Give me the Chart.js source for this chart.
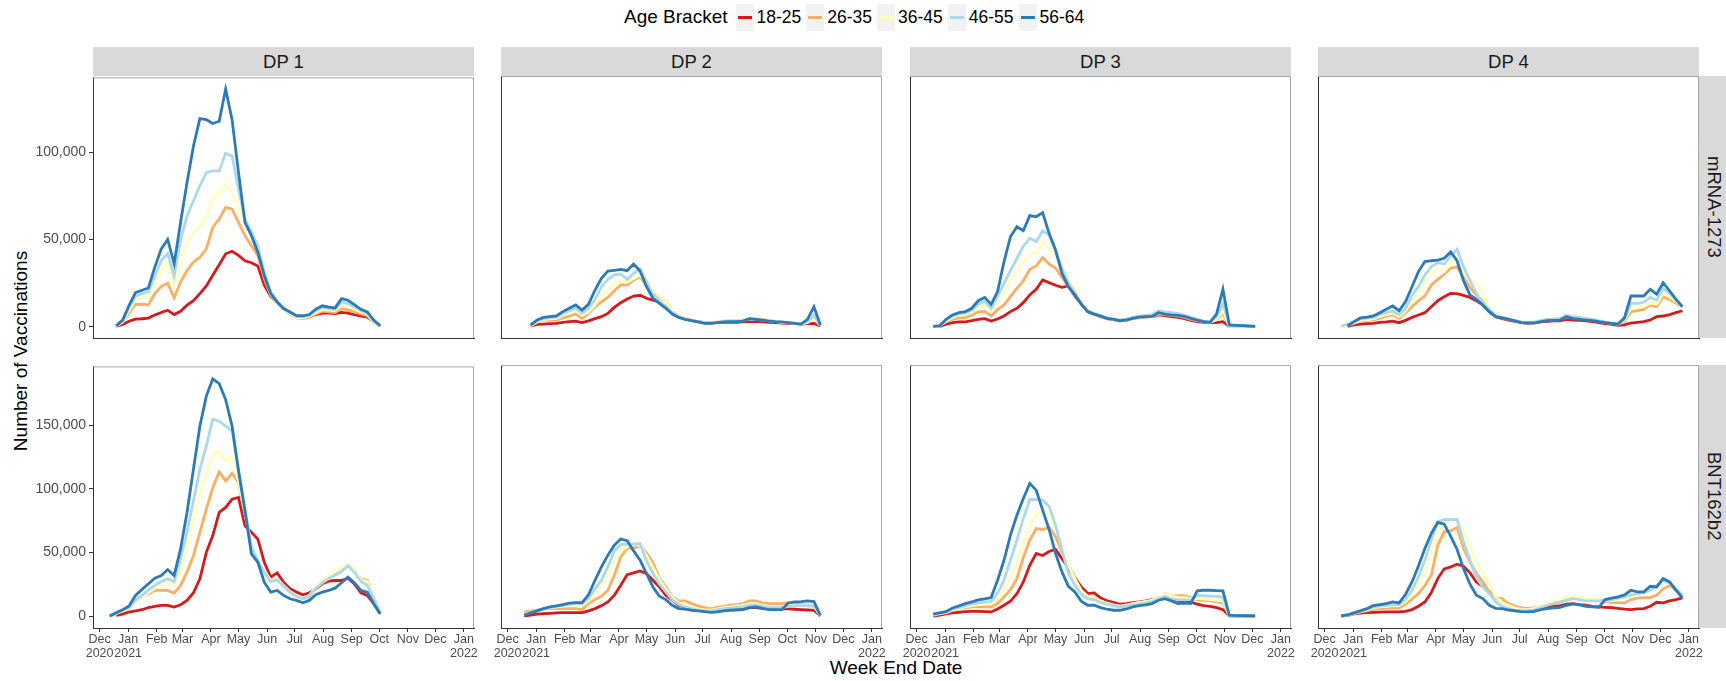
<!DOCTYPE html>
<html>
<head>
<meta charset="utf-8">
<script src="https://cdn.jsdelivr.net/npm/chart.js@4.4.1/dist/chart.umd.min.js"></script>
<style>
  body { margin: 0; width: 1726px; height: 681px; overflow: hidden; background: #fff;
         font-family: "Liberation Sans", Arial, sans-serif; position: relative; }
  canvas { position: absolute; }
  .strip { position: absolute; background: #d9d9d9; color: #1a1a1a; font-size: 18.5px;
           display: flex; align-items: center; justify-content: center; }
  .stripY { writing-mode: vertical-rl; }
  #legend { position: absolute; left: 624px; top: 3px; height: 28px; display: flex; align-items: center;
            font-size: 19px; color: #000; }
  .key { width: 18px; height: 27px; background: #f2f2f2; position: relative; margin-left: 5px; }
  .key span { position: absolute; left: 2px; right: 2px; top: 12px; height: 3.5px; }
  .lab { margin-left: 3px; font-size: 17.5px; }
  #ytitle { position: absolute; left: 21px; top: 351px; transform: translate(-50%, -50%) rotate(-90deg);
            font-size: 19px; white-space: nowrap; }
  #xtitle { position: absolute; left: 896px; top: 668px; transform: translate(-50%, -50%);
            font-size: 19px; white-space: nowrap; }
</style>
</head>
<body>
<div id="legend"><span>Age Bracket</span></div>
<div id="ytitle">Number of Vaccinations</div>
<div id="xtitle">Week End Date</div>
<script>
// week end dates (Saturdays)
const weekEnd = ['2020-12-12','2020-12-19','2020-12-26','2021-01-02','2021-01-09','2021-01-16','2021-01-23','2021-01-30',
  '2021-02-06','2021-02-13','2021-02-20','2021-02-27','2021-03-06','2021-03-13','2021-03-20','2021-03-27',
  '2021-04-03','2021-04-10','2021-04-17','2021-04-24','2021-05-01','2021-05-08','2021-05-15','2021-05-22','2021-05-29',
  '2021-06-05','2021-06-12','2021-06-19','2021-06-26','2021-07-03','2021-07-10','2021-07-17','2021-07-24','2021-07-31',
  '2021-08-07','2021-08-14','2021-08-21','2021-08-28','2021-09-04','2021-09-11','2021-09-18','2021-09-25',
  '2021-10-02','2021-10-09','2021-10-16','2021-10-23','2021-10-30','2021-11-06','2021-11-13','2021-11-20','2021-11-27',
  '2021-12-04','2021-12-11','2021-12-18','2021-12-25'];

const monthTicks = ['2020-12-01','2021-01-01','2021-02-01','2021-03-01','2021-04-01','2021-05-01','2021-06-01',
  '2021-07-01','2021-08-01','2021-09-01','2021-10-01','2021-11-01','2021-12-01','2022-01-01'];
const monthLabels = [['Dec','2020'],['Jan','2021'],'Feb','Mar','Apr','May','Jun','Jul','Aug','Sep','Oct','Nov','Dec',['Jan','2022']];

const doses = ['DP 1','DP 2','DP 3','DP 4'];
const vaccines = ['mRNA-1273','BNT162b2'];
const ageBrackets = ['18-25','26-35','36-45','46-55','56-64'];
const lineColours = ['#d7191c','#fdae61','#ffffbf','#abd9e9','#2c7bb6'];
const yTicksTop = [0, 50000, 100000];
const yTicksBottom = [0, 50000, 100000, 150000];

// DP 1, mRNA-1273
const dp1Mrna1825 = [null,300,1300,3200,4400,4600,5000,6700,8200,9500,7000,8900,12400,15000,19000,23400,29500,35500,41800,43300,40900,37800,36700,34800,23800,17500,14300,10500,7600,5500,5100,5700,7000,7800,7800,7600,8200,7800,7000,6300,5500,2900,500];
const dp1Mrna2635 = [null,400,2500,8000,12800,13000,12500,19000,23000,25000,16500,25600,32300,37000,39900,44600,57000,61700,68400,67400,59800,52200,46500,40800,27500,18000,13700,10100,7400,5100,4700,5500,7400,8900,8500,8200,10400,9700,8500,7400,6300,2500,500];
const dp1Mrna3645 = [null,500,3000,9500,15500,16500,17000,25000,33000,36000,23000,36000,48400,54100,57000,63600,74100,76000,81700,76900,68400,59800,52200,44600,30400,19000,14200,10400,7600,5300,5100,6300,8200,9900,9500,9300,12300,11600,10100,8500,7400,2800,500];
const dp1Mrna4655 = [null,600,3500,11000,17500,19000,20000,29000,38000,42000,29000,50000,63600,72200,80700,88300,89300,89300,99400,97800,78800,61700,54100,46500,31300,20000,14600,10800,8200,6300,5900,6600,9300,11000,10400,10000,14200,13300,11400,9300,7800,3200,500];
const dp1Mrna5664 = [null,500,3800,12300,19600,20900,22200,34200,44600,50000,36100,59800,82600,103500,119300,118700,116500,117800,136200,118700,88300,59800,52200,42700,29400,19000,14200,10400,8500,6300,6300,7000,10100,12000,11200,10800,16100,15200,12700,10000,8500,3800,600];

// DP 1, BNT162b2
const dp1Bnt1825 = [null,800,1800,3400,4200,5200,6800,7800,8600,8600,7300,9100,12500,18500,29400,50200,63300,81500,85400,91900,93200,71000,65900,60700,42400,30700,34100,26800,21600,19000,16900,18500,21600,25500,27600,28100,28100,29900,25500,18500,16400,9900,2100];
const dp1Bnt2635 = [200,2000,4000,6200,12500,15100,17700,20300,20300,20300,18200,24200,34600,47700,65900,84100,101000,113300,106200,112200,104900,80200,54200,42400,35900,28100,29400,23700,19000,15900,13800,15900,22100,26800,29900,32500,35900,39800,35900,29400,28100,13800,2900];
const dp1Bnt3645 = [260,2400,4500,6800,11500,14500,18500,22100,24200,25500,23700,37200,55500,75000,95800,112700,127000,129700,121900,125800,106200,81500,55500,43700,35900,28100,29400,24200,19500,16400,14300,16400,23200,28100,32000,35100,37800,41100,37200,28900,27300,13800,3400];
const dp1Bnt4655 = [260,2600,5000,7300,12500,16400,20800,24200,27300,29400,27300,45000,65900,90600,115400,133600,154400,153100,149200,145300,115400,84100,54200,43700,34600,27300,28600,23700,19000,15900,13800,15900,22100,26300,29400,32500,35100,39800,34600,27300,24200,13800,3400];
const dp1Bnt5664 = [260,2900,5200,8100,16400,21100,25500,29900,32000,36700,32000,52900,81500,115400,149200,172700,186200,182500,170000,149200,114000,82800,49000,42400,26800,19000,20300,16400,13800,12500,10700,12500,16900,19000,20300,22100,26300,30700,26300,20300,19000,9900,2100];

// DP 2, mRNA-1273
const dp2Mrna1825 = [null,null,400,1300,1500,1700,1900,2500,2900,3200,2300,3300,4600,5700,7600,11000,13700,15800,17500,17900,16200,15200,14100,11400,8000,5700,4400,3400,2900,2300,2300,2300,2500,2500,2500,2700,3100,2900,2700,2500,2300,2100,1900,1700,1500,1700,1900,400];
const dp2Mrna2635 = [null,null,600,2500,3800,3800,3800,5000,6000,7200,4800,7600,11400,14300,16700,20500,23800,23800,26600,28500,23200,19400,17100,14800,8600,6100,4600,3800,2900,2100,2100,2700,3100,3300,3400,3800,4600,4400,4200,3600,3100,2500,2300,1900,1700,2300,4800,600];
const dp2Mrna3645 = [null,null,800,3000,4000,4400,4800,6500,7800,9000,6500,8500,12500,17500,21500,24500,26000,25500,27500,29500,24500,20500,17500,14500,8500,6000,4600,3600,2800,2300,2200,2600,3000,3200,3300,3600,4500,4400,4000,3500,3000,2600,2300,1900,1700,2500,4800,900];
const dp2Mrna4655 = [null,null,900,3400,4600,5000,5500,7500,9000,10500,7600,10500,15500,22800,27000,29500,30000,27000,30400,32700,25700,18000,14800,11400,8000,5700,4400,3400,2700,2100,2100,2500,2900,3100,3100,3400,4400,4200,3800,3400,2900,2500,2300,1900,1700,2900,6700,1000];
const dp2Mrna5664 = [null,null,1000,3800,5300,5700,6100,8600,10500,12400,9500,12900,20900,27600,31700,32100,32700,31900,35700,31700,22800,16200,13300,10500,7200,5300,4200,3400,2700,1900,1900,2300,2700,2900,2900,3200,4600,4200,3800,3200,2900,2700,2300,1900,1500,4200,11400,1000];

// DP 2, BNT162b2
const dp2Bnt1825 = [null,300,1000,1600,2100,2300,2600,2900,2900,2900,2900,4200,6000,8300,11200,16400,24200,32500,33900,35400,33300,28100,22900,16400,12500,8600,7300,6000,4900,4400,3900,4700,5200,5500,5700,6000,6800,6800,6200,5700,5700,5700,5700,5500,5200,4900,4700,300];
const dp2Bnt2635 = [null,3400,4000,4800,5700,6000,6000,6000,6000,6000,5200,9900,13000,15600,20300,32000,46300,52900,53400,54700,49500,41700,29400,22900,15100,12000,12000,9900,8100,6800,5700,7000,7800,8600,9100,9900,12000,12000,10400,9900,9900,9900,10400,9900,9100,8600,7800,500];
const dp2Bnt3645 = [null,1800,3000,4500,5800,6600,7300,7900,8300,8600,8700,12000,17500,24000,32000,44000,51000,54000,56500,55000,47500,38000,28500,21500,14500,10500,8200,6700,5600,5000,4800,5800,6800,7400,8000,8600,9800,9800,8600,7800,7600,7600,8300,8400,8400,8200,7600,700];
const dp2Bnt4655 = [null,1500,3000,4500,6000,7000,7800,8600,9300,9800,9900,14100,21600,28100,38500,51000,56000,56200,56200,56800,43200,33300,25000,19000,13000,9400,7300,6000,4900,4400,4200,5200,6000,6500,7000,7600,8600,8900,7800,7000,6800,6800,7800,8100,8300,8300,7800,800];
const dp2Bnt5664 = [null,800,2600,4200,6000,7300,8100,9100,10200,10700,10700,16900,28100,38500,47700,55500,60200,58900,51000,43700,33300,22900,15600,13000,8600,6000,5500,4700,4200,3600,3100,3400,4200,4700,4900,5200,6800,7300,6200,5200,5200,5200,10400,11200,11500,12000,11500,800];

// DP 3, mRNA-1273
const dp3Mrna1825 = [null,null,200,1500,2300,2700,2800,3400,4200,4600,3200,4400,6100,8600,10500,13700,18100,21300,26600,25100,23600,22400,23200,17500,12900,8600,7200,5700,4600,4000,3400,4200,5000,5300,5700,5700,6700,6300,5700,5300,4600,3600,2900,2500,2300,2300,2900,200,100,100,100,100];
const dp3Mrna2635 = [null,150,700,2800,4200,5000,5300,6500,8500,8700,6100,9700,12400,17100,21900,26200,32700,34600,39500,35700,33500,28100,22800,18100,13300,9100,7600,6100,4800,4000,3400,3800,4600,5100,5300,5700,7200,6900,6500,6100,5300,4200,3400,2900,2500,3800,7600,100,100,100,100,100];
const dp3Mrna3645 = [null,200,400,3200,5200,6500,7000,8500,11000,12500,9000,14500,20000,26000,32700,37000,41800,41800,48500,44700,39900,32300,27600,20900,14300,9500,7600,6100,4800,4200,3400,3800,4800,5500,5900,6100,8000,7600,7200,6900,6100,4800,3800,3100,2700,4200,9100,400,400,400,300,200];
const dp3Mrna4655 = [null,200,400,3800,6000,7400,7800,9500,12900,14400,10500,17500,24700,31900,39000,46000,50400,48500,54700,52300,43700,33300,25100,19400,13300,9100,7600,6300,5000,4400,3800,4200,5300,6100,6500,6900,9100,8400,8000,7600,6500,5300,4200,3200,2900,5300,13300,800,600,600,400,200];
const dp3Mrna5664 = [null,200,400,4200,6700,8000,8600,10500,14800,16700,12700,20000,37100,51300,57000,54700,63300,62700,65000,53200,43700,30400,22800,18100,12900,8600,7200,6100,4800,4200,3400,3800,4800,5500,5700,5900,8000,7200,6800,6500,5900,4800,3800,2900,2500,7200,21300,1000,800,600,400,200];

// DP 3, BNT162b2
const dp3Bnt1825 = [null,200,1000,1800,2600,3100,3600,3900,3900,3600,3400,5700,8600,11700,17700,26800,39800,49000,47400,50500,52100,45000,38000,30200,22900,17700,18200,14300,12000,10900,9400,9900,10700,11200,12000,13000,14100,16100,13500,12500,11700,11200,9400,8300,7800,6800,5200,300,200,200,200,200];
const dp3Bnt2635 = [null,800,1800,2600,4700,5800,6800,7300,7300,7300,7300,9900,15100,20800,29400,45800,59400,68500,67700,69300,62000,50300,39800,30200,20000,15000,14100,11700,9900,8600,7300,8300,9400,10400,11200,12000,14300,17700,15600,16100,16100,14600,13000,12500,12000,11200,10400,300,300,300,300,300];
const dp3Bnt3645 = [null,1300,2300,3100,5000,6200,7400,8300,9100,9600,9800,13500,20000,31000,42000,56000,71000,80000,82000,79000,70000,55000,40000,29000,20000,15500,14500,12000,10200,8900,7900,8800,9900,10900,11700,12600,15000,17500,15500,14800,14500,13800,14000,13500,13000,12500,12000,400,300,300,300,300];
const dp3Bnt4655 = [null,1600,2600,3400,5700,7000,8300,9400,10400,11000,11700,18200,28100,43700,59400,76300,91100,91100,90600,85900,71100,51600,33300,24200,17200,13500,13000,10900,9400,8300,7300,8100,8900,9600,10400,11500,13500,15600,13500,13000,12800,13000,16400,16000,15700,15500,15000,500,400,400,300,300];
const dp3Bnt5664 = [null,1600,2600,3600,6500,8100,9900,11200,12800,13500,14600,28100,43700,63300,78900,91900,103600,98400,82800,67700,49000,34600,23400,19000,11700,8600,8600,6800,5500,4700,4700,5700,7300,8300,8900,9900,12500,13800,12000,9900,10200,9900,19800,20300,20300,20000,19800,800,500,500,400,300];

// DP 4, mRNA-1273
const dp4Mrna1825 = [null,null,200,1000,1500,1700,1900,2500,2800,3200,2300,3600,5300,6700,8000,11400,14800,17100,19000,18800,17900,16700,14800,12400,8600,5700,4600,3800,3100,2300,2100,2300,2700,3100,3300,3400,4200,3800,3600,3300,2900,2300,1700,1300,800,1000,2100,2500,2900,3800,5700,6100,6900,8000,9100];
const dp4Mrna2635 = [null,null,400,2000,3000,3800,3800,4900,6000,6700,4800,8000,11400,14800,17500,23800,27000,29900,33300,34200,28100,22400,18100,14300,9100,6100,5000,4200,3300,2500,2300,2500,3100,3600,3800,4200,5300,5000,4600,4200,3600,3100,2300,1900,1300,2900,8600,9100,9900,12400,11400,17100,15600,13300,11400];
const dp4Mrna3645 = [null,null,800,2400,3600,4000,4500,5800,6900,7700,5800,9000,14500,19500,25500,30500,33000,31500,36000,37500,30500,27500,24000,18000,11000,7000,5600,4800,3600,2800,2600,2800,3500,4300,4600,5000,6500,5800,5400,4800,4200,3400,2700,2100,1700,3800,10500,11000,11500,13500,13000,19000,17000,14500,11500];
const dp4Mrna4655 = [null,100,1500,3000,4400,4900,5300,6800,8000,8900,6800,10400,18000,22800,29400,34200,36500,35700,40300,44100,34200,26200,19000,13300,9900,6400,5300,4600,3400,2700,2500,2700,3400,4200,4400,4800,6400,5700,5300,4800,4200,3400,2700,2100,1700,4200,13300,13300,14000,16700,15200,21800,19000,15200,11400];
const dp4Mrna5664 = [null,null,400,2900,5000,5500,6100,8000,9900,11800,9100,14300,22800,31400,37100,37600,38000,39000,42600,37600,26200,18100,15600,12400,8600,5700,5000,4200,3300,2300,2100,2100,2900,3400,3600,3800,5700,4600,4200,3800,3400,2900,2300,1900,1500,5100,17500,17500,17500,21300,18600,25100,20500,15600,11400];

// DP 4, BNT162b2
const dp4Bnt1825 = [null,100,700,1800,2400,2900,3100,3200,3400,3400,3400,3900,5200,7800,11200,18500,29400,37000,38500,40600,39100,33900,26800,23400,19000,14600,11500,9100,7300,6200,6000,6200,7000,7600,8100,8300,9400,9900,9100,8600,7800,7300,7000,6800,6200,5500,5200,5700,6000,7800,10900,10400,12000,13000,14300];
const dp4Bnt2635 = [null,200,900,2100,3400,4200,5500,6000,6300,6500,6500,9400,13500,17700,24000,32000,55500,66100,66700,69300,52900,42400,33300,26800,19000,14300,13800,9900,7800,6500,6200,6800,7800,9100,9900,11200,12500,14100,13500,13000,12500,12000,11500,10900,10700,10400,13000,14100,14600,14600,16400,21400,24000,20800,16400];
const dp4Bnt3645 = [null,200,1100,2500,3900,5200,6500,7300,7800,8100,8300,11500,17000,25000,36000,50000,65000,73000,75500,75000,66000,55000,42000,34000,25000,15000,11000,8500,6400,5400,5200,6200,8200,10000,11500,13000,14500,15800,14800,13500,13300,13000,12000,12500,13000,14000,15500,17000,18000,20000,24000,27500,26000,21000,16000];
const dp4Bnt4655 = [null,200,1300,2900,4400,5700,7300,8100,8600,8900,9100,13000,20300,30700,43700,59400,73700,75500,75500,75500,58100,43700,30200,22900,17700,11200,7800,6000,4700,4200,4400,4900,6800,8600,9900,11200,12500,13800,13000,12000,12000,12000,12500,13000,14100,15100,16700,17700,18500,20300,24200,28100,26000,21600,16400];
const dp4Bnt5664 = [null,300,1000,2600,4200,6000,8300,9100,9900,11200,10400,17200,26800,39300,52900,64600,73200,71900,62500,52100,37200,25000,16400,13800,8600,6200,6000,4900,4200,3600,3400,3900,5200,6000,6500,7000,8600,9600,8900,7800,7300,7000,13000,14100,15100,16700,20300,19000,19000,23400,22900,29400,26800,20300,14300];

// facet table: [row][column] -> series in ageBrackets order
const panels = [
  [[dp1Mrna1825,dp1Mrna2635,dp1Mrna3645,dp1Mrna4655,dp1Mrna5664],
   [dp2Mrna1825,dp2Mrna2635,dp2Mrna3645,dp2Mrna4655,dp2Mrna5664],
   [dp3Mrna1825,dp3Mrna2635,dp3Mrna3645,dp3Mrna4655,dp3Mrna5664],
   [dp4Mrna1825,dp4Mrna2635,dp4Mrna3645,dp4Mrna4655,dp4Mrna5664]],
  [[dp1Bnt1825,dp1Bnt2635,dp1Bnt3645,dp1Bnt4655,dp1Bnt5664],
   [dp2Bnt1825,dp2Bnt2635,dp2Bnt3645,dp2Bnt4655,dp2Bnt5664],
   [dp3Bnt1825,dp3Bnt2635,dp3Bnt3645,dp3Bnt4655,dp3Bnt5664],
   [dp4Bnt1825,dp4Bnt2635,dp4Bnt3645,dp4Bnt4655,dp4Bnt5664]]
];

// layout of the facet grid (pixels)
const panelLeft = [93, 501, 910, 1318];
const panelW = 381;
const panelTop = [76, 365];
const panelH = [262, 263];
const yLimits = [[-6440, 142900], [-9140, 196000]];
const xLimits = [-7.2, 407];
const padL = 80, padR = 14, padT = 10, padB = 44;

const day0 = Date.UTC(2020, 11, 1);
const dayOf = s => (Date.parse(s) - day0) / 864e5;
const tickDays = monthTicks.map(dayOf);

Chart.defaults.font.family = '"Liberation Sans", Arial, sans-serif';

// grey panel border on top and right (left/bottom come from the axes)
const panelBorder = {
  id: 'panelBorder',
  beforeDatasetsDraw(chart) {
    const a = chart.chartArea, ctx = chart.ctx;
    ctx.save();
    ctx.strokeStyle = '#a6a6a6';
    ctx.lineWidth = 1;
    ctx.beginPath();
    ctx.moveTo(a.left, a.top + 0.5);
    ctx.lineTo(a.right - 0.5, a.top + 0.5);
    ctx.lineTo(a.right - 0.5, a.bottom);
    ctx.stroke();
    ctx.restore();
  }
};

// legend
const legend = document.getElementById('legend');
ageBrackets.forEach((lab, k) => {
  const key = document.createElement('div');
  key.className = 'key';
  if (k === 0) key.style.marginLeft = '8px';
  const seg = document.createElement('span');
  seg.style.background = lineColours[k];
  key.appendChild(seg);
  legend.appendChild(key);
  const t = document.createElement('span');
  t.className = 'lab';
  t.textContent = lab;
  legend.appendChild(t);
});

// strips
doses.forEach((d, c) => {
  const s = document.createElement('div');
  s.className = 'strip';
  s.style.left = panelLeft[c] + 'px';
  s.style.top = '47px';
  s.style.width = panelW + 'px';
  s.style.height = '29px';
  s.textContent = d;
  document.body.appendChild(s);
});
vaccines.forEach((v, r) => {
  const s = document.createElement('div');
  s.className = 'strip stripY';
  s.style.left = '1699px';
  s.style.top = panelTop[r] + 'px';
  s.style.width = '29px';
  s.style.height = panelH[r] + 'px';
  s.textContent = v;
  document.body.appendChild(s);
});

// panels
for (let r = 0; r < 2; r++) {
  for (let c = 0; c < 4; c++) {
    const cv = document.createElement('canvas');
    const w = panelW + padL + padR, h = panelH[r] + padT + padB;
    cv.width = w; cv.height = h;
    cv.style.left = (panelLeft[c] - padL) + 'px';
    cv.style.top = (panelTop[r] - padT) + 'px';
    cv.style.width = w + 'px'; cv.style.height = h + 'px';
    document.body.appendChild(cv);

    const datasets = panels[r][c].map((vals, k) => ({
      label: ageBrackets[k],
      data: vals.map((v, i) => v == null ? null : { x: dayOf(weekEnd[i]), y: v }).filter(p => p),
      borderColor: lineColours[k],
      borderWidth: 2.8,
      pointRadius: 0,
      fill: false,
      tension: 0,
      order: 4 - k
    }));

    new Chart(cv, {
      type: 'line',
      data: { datasets },
      options: {
        responsive: false,
        animation: false,
        devicePixelRatio: 1,
        layout: { padding: { left: 0, right: padR, top: padT, bottom: 0 } },
        plugins: { legend: { display: false }, tooltip: { enabled: false } },
        scales: {
          x: {
            type: 'linear', min: xLimits[0], max: xLimits[1],
            afterBuildTicks: s => { s.ticks = tickDays.map(v => ({ value: v })); },
            afterFit: s => { s.height = padB; },
            grid: { drawOnChartArea: false, drawTicks: r === 1, tickLength: 4, tickColor: '#333' },
            border: { display: true, color: '#333', width: 1 },
            ticks: {
              display: r === 1, autoSkip: false, maxRotation: 0, minRotation: 0, padding: 1,
              color: '#4d4d4d', font: { size: 12.5, lineHeight: 1.07 },
              callback: (v, i) => monthLabels[i]
            }
          },
          y: {
            type: 'linear', min: yLimits[r][0], max: yLimits[r][1],
            afterBuildTicks: s => { s.ticks = (r === 0 ? yTicksTop : yTicksBottom).map(v => ({ value: v })); },
            afterFit: s => { s.width = padL; },
            grid: { drawOnChartArea: false, drawTicks: c === 0, tickLength: 4, tickColor: '#333' },
            border: { display: true, color: '#333', width: 1 },
            ticks: {
              display: c === 0, padding: 3, color: '#4d4d4d', font: { size: 14 },
              callback: v => v.toLocaleString('en-US')
            }
          }
        }
      },
      plugins: [panelBorder]
    });
  }
}
</script>
</body>
</html>
